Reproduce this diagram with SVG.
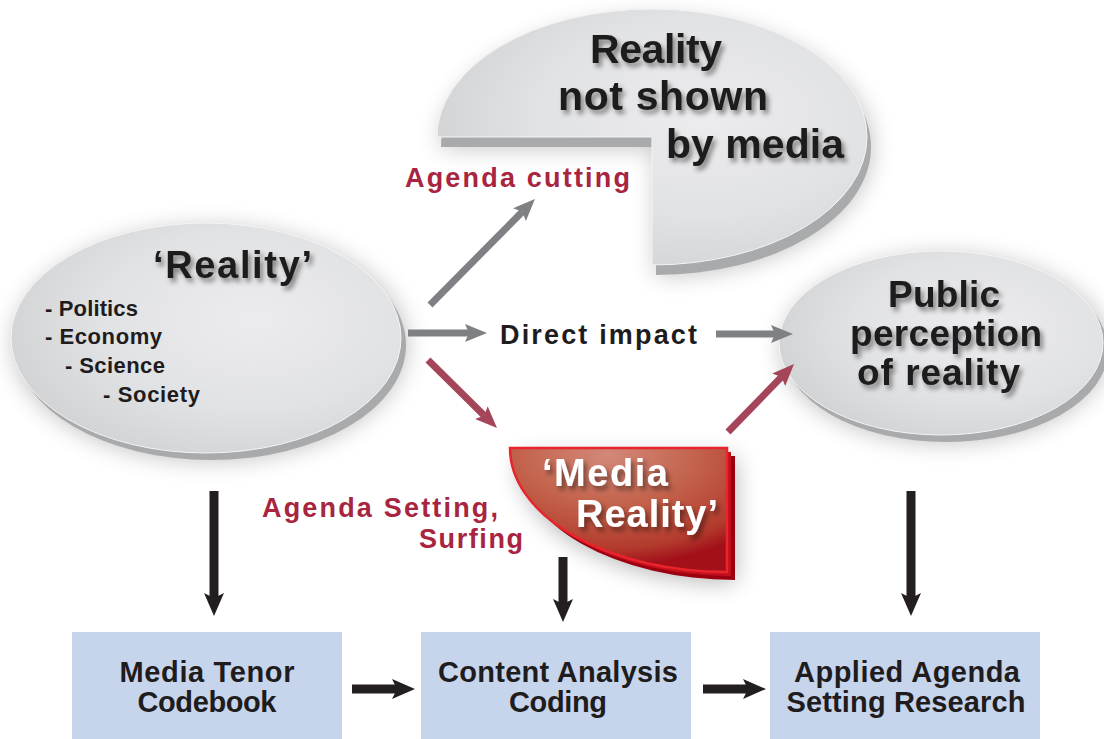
<svg xmlns="http://www.w3.org/2000/svg" width="1104" height="739" viewBox="0 0 1104 739">
<defs>
  <style>
    .t{font-family:"Liberation Sans",Arial,sans-serif;font-weight:bold}
    .big{font-size:41px;fill:#1f1c1d}
    .lbl{font-size:27px;fill:#1f1c1d}
    .red{font-size:27px;fill:#a8243f}
    .lst{font-size:22px;fill:#1f1c1d}
    .box{fill:#c6d4ec}
    .boxt{font-size:29px;fill:#1f1c1d;text-anchor:middle}
    .rim{fill:#a9aaac}
  </style>
  <radialGradient id="gface" cx="0.62" cy="0.42" r="0.65">
    <stop offset="0" stop-color="#ececee"/>
    <stop offset="0.6" stop-color="#e1e2e4"/>
    <stop offset="1" stop-color="#d2d3d5"/>
  </radialGradient>
  <radialGradient id="rface" cx="0.45" cy="0.05" r="0.9">
    <stop offset="0" stop-color="#d3887a"/>
    <stop offset="0.45" stop-color="#c3634c"/>
    <stop offset="0.85" stop-color="#b23a2c"/>
    <stop offset="1" stop-color="#a3101a"/>
  </radialGradient>
  <filter id="glow" x="-30%" y="-30%" width="160%" height="160%">
    <feGaussianBlur stdDeviation="12"/>
  </filter>
  <filter id="ts" x="-10%" y="-20%" width="130%" height="150%">
    <feDropShadow dx="3" dy="4" stdDeviation="2.5" flood-color="#000" flood-opacity="0.45"/>
  </filter>
  <marker id="mg" markerUnits="userSpaceOnUse" markerWidth="24" markerHeight="20" refX="4" refY="9" orient="auto">
    <path d="M0,0 L22,9 L0,18 L4,9 Z" fill="#7f8083"/>
  </marker>
  <marker id="mr" markerUnits="userSpaceOnUse" markerWidth="24" markerHeight="20" refX="4" refY="9" orient="auto">
    <path d="M0,0 L22,9 L0,18 L4,9 Z" fill="#a5455a"/>
  </marker>
  <marker id="mb" markerUnits="userSpaceOnUse" markerWidth="25" markerHeight="21" refX="5" refY="10" orient="auto">
    <path d="M0,0 L23,10 L0,20 L5,10 Z" fill="#231f20"/>
  </marker>
</defs>

<rect width="1104" height="739" fill="#ffffff"/>

<!-- Top pie: Reality not shown by media -->
<g id="node-not-shown">
  <path d="M437,137 A215,128 0 1 1 652,265 L652,137 Z" fill="#000" opacity="0.25" filter="url(#glow)" transform="translate(4,10)"/>
  <path d="M437,137 A215,128 0 1 1 652,265 L652,137 Z" class="rim" transform="translate(4,10)"/>
  <path d="M437,137 A215,128 0 1 1 652,265 L652,137 Z" fill="url(#gface)" stroke="#f4f4f5" stroke-width="1"/>
  <g class="t big" filter="url(#ts)">
    <text x="590" y="63" textLength="132">Reality</text>
    <text x="558" y="110" textLength="210">not shown</text>
    <text x="666" y="158" textLength="178">by media</text>
  </g>
</g>

<!-- Left ellipse: Reality -->
<g id="node-reality">
  <ellipse cx="210" cy="344" rx="196" ry="116" fill="#000" opacity="0.25" filter="url(#glow)"/>
  <ellipse cx="211" cy="345" rx="195" ry="115" class="rim"/>
  <ellipse cx="206" cy="338" rx="195" ry="115" fill="url(#gface)" stroke="#f4f4f5" stroke-width="1"/>
  <text x="153" y="278" class="t" font-size="38" fill="#1f1c1d" textLength="159" filter="url(#ts)">‘Reality’</text>
  <g class="t lst">
    <text x="45" y="316" textLength="93">- Politics</text>
    <text x="45" y="344" textLength="117">- Economy</text>
    <text x="65" y="373" textLength="100">- Science</text>
    <text x="103" y="402" textLength="97">- Society</text>
  </g>
</g>

<!-- Right ellipse: Public perception -->
<g id="node-public">
  <ellipse cx="945" cy="349" rx="163" ry="93" fill="#000" opacity="0.25" filter="url(#glow)"/>
  <ellipse cx="946" cy="350" rx="162" ry="92" class="rim"/>
  <ellipse cx="941" cy="343" rx="162" ry="92" fill="url(#gface)" stroke="#f4f4f5" stroke-width="1"/>
  <g class="t" font-size="37" fill="#1f1c1d" filter="url(#ts)">
    <text x="888" y="307" textLength="112">Public</text>
    <text x="850" y="346" textLength="192">perception</text>
    <text x="857" y="385" textLength="163">of reality</text>
  </g>
</g>

<!-- Media Reality -->
<g id="node-media-reality">
  <path d="M510,448 L727,448 L727,572 A217,124 0 0 1 510,448 Z" fill="#000" opacity="0.3" filter="url(#glow)" transform="translate(8,10)"/>
  <path d="M510,448 L727,448 L727,572 A217,124 0 0 1 510,448 Z" fill="#9c0010" transform="translate(8,8)"/>
  <path d="M510,448 L727,448 L727,572 A217,124 0 0 1 510,448 Z" fill="#c4101e" transform="translate(4,4)"/>
  <path d="M510,448 L727,448 L727,572 A217,124 0 0 1 510,448 Z" fill="url(#rface)" stroke="#e8242c" stroke-width="2.5"/>
  <g class="t" font-size="38" fill="#ffffff" filter="url(#ts)">
    <text x="542" y="486" textLength="126">‘Media</text>
    <text x="576" y="527" textLength="142">Reality’</text>
  </g>
</g>

<!-- Labels -->
<g id="labels" class="t">
  <text x="405" y="187" class="red" textLength="225">Agenda cutting</text>
  <text x="500" y="344" class="lbl" textLength="197">Direct impact</text>
  <text x="262" y="517" class="red" textLength="236">Agenda Setting,</text>
  <text x="419" y="548" class="red" textLength="104">Surfing</text>
</g>

<!-- Bottom boxes -->
<g id="node-codebook">
  <rect x="72" y="632" width="270" height="107" class="box"/>
  <text x="207" y="682" class="t boxt" textLength="175">Media Tenor</text>
  <text x="207" y="712" class="t boxt" textLength="139">Codebook</text>
</g>
<g id="node-content-analysis">
  <rect x="421" y="632" width="270" height="107" class="box"/>
  <text x="558" y="682" class="t boxt" textLength="240">Content Analysis</text>
  <text x="558" y="712" class="t boxt" textLength="98">Coding</text>
</g>
<g id="node-applied">
  <rect x="770" y="632" width="270" height="107" class="box"/>
  <text x="907" y="682" class="t boxt" textLength="226">Applied Agenda</text>
  <text x="906" y="712" class="t boxt" textLength="239">Setting Research</text>
</g>

<!-- Connectors -->
<g id="connectors" fill="none" stroke-linecap="butt">
  <line x1="430" y1="305" x2="522.3" y2="211.8" stroke="#7f8083" stroke-width="7" marker-end="url(#mg)"/>
  <line x1="408" y1="333" x2="469" y2="333" stroke="#7f8083" stroke-width="7" marker-end="url(#mg)"/>
  <line x1="716" y1="334" x2="775" y2="334" stroke="#7f8083" stroke-width="7" marker-end="url(#mg)"/>
  <line x1="428" y1="360" x2="484.2" y2="415.4" stroke="#a5455a" stroke-width="7" marker-end="url(#mr)"/>
  <line x1="728" y1="432" x2="781.5" y2="376.9" stroke="#a5455a" stroke-width="7" marker-end="url(#mr)"/>
  <line x1="214" y1="491" x2="214" y2="598" stroke="#231f20" stroke-width="9" marker-end="url(#mb)"/>
  <line x1="563" y1="557" x2="563" y2="604" stroke="#231f20" stroke-width="9" marker-end="url(#mb)"/>
  <line x1="911" y1="491" x2="911" y2="598" stroke="#231f20" stroke-width="9" marker-end="url(#mb)"/>
  <line x1="352" y1="689" x2="397" y2="689" stroke="#231f20" stroke-width="9" marker-end="url(#mb)"/>
  <line x1="703" y1="689" x2="748" y2="689" stroke="#231f20" stroke-width="9" marker-end="url(#mb)"/>
</g>
</svg>
